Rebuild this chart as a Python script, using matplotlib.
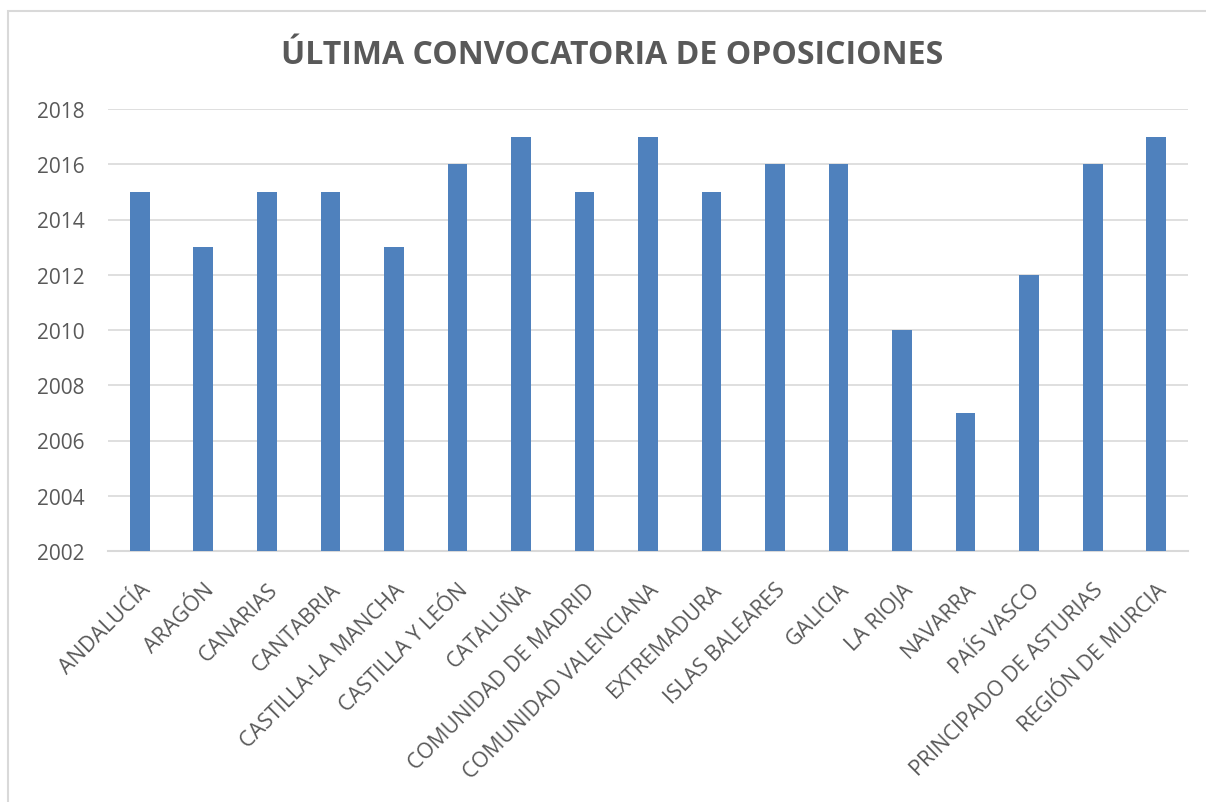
import matplotlib.pyplot as plt
import matplotlib.patches as mpatches
import numpy as np

regiones = [
    "ANDALUCÍA", "ARAGÓN", "CANARIAS", "CANTABRIA", "CASTILLA-LA MANCHA",
    "CASTILLA Y LEÓN", "CATALUÑA", "COMUNIDAD DE MADRID", "COMUNIDAD VALENCIANA",
    "EXTREMADURA", "ISLAS BALEARES", "GALICIA", "LA RIOJA", "NAVARRA",
    "PAÍS VASCO", "PRINCIPADO DE ASTURIAS", "REGIÓN DE MURCIA",
]
anios = [2015, 2013, 2015, 2015, 2013, 2016, 2017, 2015, 2017,
         2015, 2016, 2016, 2010, 2007, 2012, 2016, 2017]
yticks = list(range(2002, 2019, 2))

gris_texto = "#595959"
gris_linea = "#D9D9D9"
azul = "#4F81BD"

plt.rcParams['font.family'] = ['Open Sans', 'DejaVu Sans']

fig = plt.figure(figsize=(12.06, 8.03), dpi=100)
ax = fig.add_axes([108 / 1206, 1 - 552 / 803, (1188 - 108) / 1206, (552 - 110) / 803])

# marco exterior del grafico
fig.patches.append(mpatches.Rectangle((8 / 1206, -0.05), 1.1, 1 - 12 / 803 + 0.05,
                                      transform=fig.transFigure, fill=False,
                                      edgecolor=gris_linea, linewidth=1.5))

base = yticks[0]
x = np.arange(len(regiones))
ax.bar(x, np.array(anios) - base, bottom=base, width=0.31, color=azul, zorder=3)

ax.set_xlim(-0.5, len(regiones) - 0.5)
ax.set_ylim(yticks[0], yticks[-1])
ax.set_yticks(yticks)
ax.set_yticklabels([str(t) for t in yticks], fontsize=15, color=gris_texto)
ax.set_xticks(x)
ax.set_xticklabels(regiones, rotation=45, ha='right', va='top',
                   rotation_mode='anchor', fontsize=15.5, color=gris_texto)
ax.tick_params(axis='both', length=0)
ax.tick_params(axis='y', pad=17)
ax.tick_params(axis='x', pad=20)

ax.grid(axis='y', color=gris_linea, linewidth=1.2, zorder=0)
for lado in ['top', 'right', 'left']:
    ax.spines[lado].set_visible(False)
ax.spines['bottom'].set_color(gris_linea)
ax.spines['bottom'].set_linewidth(1.5)

fig.text(612 / 1206, 1 - 55 / 803, "ÚLTIMA CONVOCATORIA DE OPOSICIONES",
         ha='center', va='center', fontsize=23, fontweight='bold', color=gris_texto)

fig.savefig("out.png", dpi=100)
